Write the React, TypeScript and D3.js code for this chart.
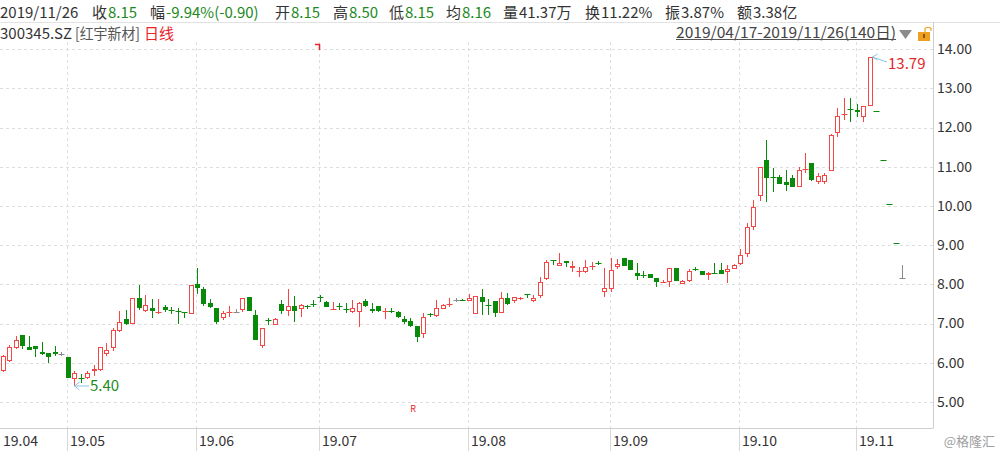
import React from "react";
import * as d3 from "d3";

// ---- Data ----
const OPEN = [
  5.78, 6.05, 6.38, 6.70, 6.41, 6.43, 6.28, 6.26, 6.28, 6.21,
  6.15, 5.58, 5.61, 5.61, 5.80, 5.81, 6.21, 6.37, 6.81, 7.11,
  7.00, 7.66, 7.32, 7.40, 7.28, 7.41, 7.34, 7.32, 7.30, 7.25,
  8.02, 7.88, 7.53, 7.39, 7.15, 7.29, 7.30, 7.34, 7.67, 7.22,
  6.43, 7.08, 6.96, 7.50, 7.32, 7.45, 7.36, 7.44, 7.51, 7.68,
  7.54, 7.36, 7.44, 7.38, 7.29, 7.29, 7.58, 7.37, 7.45, 7.31,
  7.33, 7.29, 7.11, 7.07, 6.94, 6.73, 7.23, 7.19, 7.37, 7.48,
  7.60, 7.59, 7.58, 7.24, 7.68, 7.46, 7.58, 7.26, 7.64, 7.58,
  7.63, 7.74, 7.58, 7.71, 8.14, 8.63, 8.47, 8.59, 8.42, 8.31,
  8.32, 8.45, 8.55, 7.81, 7.87, 8.45, 8.68, 8.62, 8.30, 8.24,
  8.26, 8.15, 8.06, 8.07, 8.42, 8.01, 8.08, 8.39, 8.34, 8.24,
  8.30, 8.36, 8.31, 8.39, 8.51, 8.77, 9.47, 10.26, 11.17, 10.73,
  10.75, 10.60, 10.72, 10.49, 10.92, 11.09, 10.60, 10.60, 10.90, 11.85,
  12.33, 12.47, 12.45, 12.28, 12.55, 12.41, 11.17, 10.05, 9.05, 8.15,
];
const HIGH = [
  6.20, 6.45, 6.69, 6.70, 6.68, 6.43, 6.54, 6.26, 6.43, 6.28,
  6.15, 5.79, 5.70, 5.78, 5.95, 6.41, 6.49, 6.88, 7.32, 7.34,
  7.66, 7.98, 7.73, 7.62, 7.62, 7.46, 7.43, 7.39, 7.30, 7.98,
  8.42, 7.92, 7.63, 7.39, 7.32, 7.45, 7.38, 7.65, 7.67, 7.34,
  6.89, 7.13, 7.15, 7.60, 7.87, 7.70, 7.50, 7.47, 7.60, 7.72,
  7.58, 7.55, 7.52, 7.52, 7.60, 7.55, 7.62, 7.52, 7.45, 7.40,
  7.40, 7.32, 7.18, 7.14, 6.94, 7.26, 7.26, 7.60, 7.50, 7.64,
  7.66, 7.62, 7.75, 7.70, 7.87, 7.62, 7.58, 7.81, 7.77, 7.68,
  7.67, 7.76, 7.73, 8.19, 8.62, 8.63, 8.79, 8.59, 8.60, 8.45,
  8.62, 8.57, 8.60, 8.41, 8.66, 8.64, 8.68, 8.62, 8.55, 8.33,
  8.26, 8.17, 8.12, 8.41, 8.42, 8.11, 8.40, 8.43, 8.35, 8.31,
  8.55, 8.55, 8.50, 8.51, 8.89, 9.56, 10.15, 10.98, 11.68, 10.97,
  10.80, 10.92, 10.80, 10.98, 11.34, 11.09, 10.83, 10.85, 11.83, 12.49,
  12.76, 12.74, 12.60, 12.55, 13.79, 12.41, 11.17, 10.05, 9.05, 8.50,
];
const LOW = [
  5.75, 6.03, 6.36, 6.35, 6.32, 6.14, 6.20, 6.00, 6.18, 6.16,
  5.62, 5.40, 5.49, 5.58, 5.65, 5.78, 6.18, 6.31, 6.79, 6.95,
  7.00, 7.35, 7.30, 7.13, 7.25, 7.30, 7.24, 7.00, 7.15, 7.25,
  7.74, 7.45, 7.40, 7.00, 7.08, 7.17, 7.30, 7.30, 7.32, 6.58,
  6.37, 6.95, 6.96, 7.23, 7.20, 7.03, 7.17, 7.38, 7.43, 7.55,
  7.43, 7.36, 7.35, 7.26, 7.28, 6.92, 7.42, 7.26, 7.30, 7.12,
  7.26, 7.15, 7.00, 6.92, 6.54, 6.63, 7.17, 7.17, 7.36, 7.43,
  7.55, 7.57, 7.57, 7.24, 7.22, 7.22, 7.17, 7.26, 7.48, 7.52,
  7.61, 7.66, 7.56, 7.66, 8.12, 8.50, 8.47, 8.45, 8.32, 8.18,
  8.30, 8.37, 8.50, 7.68, 7.81, 8.40, 8.47, 8.36, 8.11, 8.17,
  8.17, 7.92, 8.04, 7.92, 8.08, 8.01, 8.07, 8.35, 8.24, 8.12,
  8.26, 8.27, 8.03, 8.38, 8.50, 8.70, 9.39, 10.13, 10.11, 10.36,
  10.55, 10.39, 10.47, 10.49, 10.83, 10.63, 10.55, 10.57, 10.88, 11.75,
  12.19, 12.15, 12.28, 12.15, 12.55, 12.41, 11.17, 10.05, 9.05, 8.15,
];
const CLOSE = [
  6.16, 6.41, 6.58, 6.43, 6.32, 6.36, 6.23, 6.14, 6.21, 6.21,
  5.62, 5.73, 5.60, 5.73, 5.83, 6.39, 6.33, 6.83, 7.03, 6.99,
  7.65, 7.40, 7.47, 7.33, 7.29, 7.35, 7.33, 7.31, 7.26, 7.98,
  7.90, 7.50, 7.43, 7.05, 7.26, 7.30, 7.30, 7.64, 7.32, 6.58,
  6.89, 7.07, 7.11, 7.32, 7.45, 7.32, 7.47, 7.43, 7.50, 7.64,
  7.43, 7.37, 7.43, 7.34, 7.39, 7.52, 7.45, 7.31, 7.32, 7.32,
  7.32, 7.17, 7.03, 6.94, 6.65, 7.17, 7.22, 7.39, 7.47, 7.49,
  7.60, 7.58, 7.64, 7.70, 7.56, 7.45, 7.26, 7.64, 7.50, 7.67,
  7.64, 7.73, 7.66, 8.07, 8.56, 8.59, 8.54, 8.55, 8.47, 8.34,
  8.43, 8.46, 8.54, 7.90, 8.36, 8.52, 8.47, 8.36, 8.21, 8.23,
  8.17, 8.07, 8.07, 8.41, 8.08, 8.08, 8.35, 8.38, 8.24, 8.30,
  8.29, 8.27, 8.39, 8.49, 8.75, 9.45, 9.96, 10.98, 10.72, 10.72,
  10.55, 10.53, 10.49, 10.92, 10.93, 10.66, 10.77, 10.79, 11.81, 12.29,
  12.34, 12.46, 12.39, 12.54, 13.79, 12.41, 11.17, 10.05, 9.05, 8.15,
];

const MONTH_LABELS = ["19.04", "19.05", "19.06", "19.07", "19.08", "19.09", "19.10", "19.11"];
const MONTH_START_INDEX = [0, 10, 30, 49, 72, 94, 114, 132];
const Y_TICKS = [5, 6, 7, 8, 9, 10, 11, 12, 13, 14];

const HEADER_DATE = "2019/11/26";
const HEADER_LABELS = ["收", "幅", "开", "高", "低", "均", "量", "换", "振", "额"];
const HEADER_VALUES = ["8.15", "-9.94%(-0.90)", "8.15", "8.50", "8.15", "8.16", "41.37万", "11.22%", "3.87%", "3.38亿"];
const HEADER_VALUE_GREEN = [true, true, true, true, true, true, false, false, false, false];
const HEADER_X = [92, 150, 275, 333, 389, 446, 503, 585, 665, 737];

const STOCK_CODE = "300345.SZ";
const STOCK_NAME = "[红宇新材]";
const PERIOD = "日线";
const RANGE_TEXT = "2019/04/17-2019/11/26(140日)";
const MAX_INDEX = 134;
const MIN_INDEX = 11;

const W = 1000;
const H = 451;
const RED = "#f54646";
const GREEN = "#0a8a0a";
const GRAY = "#8a8a8a";
const TXT_GREEN = "#1d8a1d";
const FONT = '"Noto Sans CJK SC", "Noto Sans", sans-serif';

export default function App() {
  const n = CLOSE.length;
  const x = d3.scaleLinear().domain([0, n - 1]).range([3, 902]);
  const y = d3.scaleLinear().domain([5, 14]).range([401.9, 49.1]);
  const axisX = 933;
  const plotTop = 42;
  const axisY = 428.5;

  const colorOf = (i: number) => {
    const o = OPEN[i], c = CLOSE[i];
    if (c > o) return RED;
    if (c < o) return GREEN;
    if (HIGH[i] > LOW[i]) return GRAY;
    const pc = i > 0 ? CLOSE[i - 1] : c;
    return c < pc ? GREEN : RED;
  };

  const candles = d3.range(n).map((i) => {
    const cx = Math.round(x(i)) + 0.5;
    const o = OPEN[i], c = CLOSE[i], h = HIGH[i], l = LOW[i];
    const col = colorOf(i);
    const yh = Math.round(y(h));
    const yl = Math.round(y(l));
    const yTop = Math.round(y(Math.max(o, c)));
    const yBot = Math.round(y(Math.min(o, c)));
    const bodyH = yBot - yTop;
    const els: any[] = [];
    if (col === RED && bodyH >= 2) {
      if (yh < yTop) els.push(<line key="wu" x1={cx} x2={cx} y1={yh} y2={yTop} stroke={col} />);
      if (yl > yBot) els.push(<line key="wd" x1={cx} x2={cx} y1={yBot} y2={yl} stroke={col} />);
      els.push(
        <rect key="b" x={cx - 2} y={yTop + 0.5} width={4} height={bodyH - 1} fill="#fff" stroke={col} strokeWidth={1} />
      );
    } else {
      if (yl > yh) els.push(<line key="w" x1={cx} x2={cx} y1={yh} y2={yl} stroke={col} />);
      if (bodyH >= 2) {
        els.push(<rect key="b" x={cx - 2.5} y={yTop} width={5} height={bodyH} fill={col} />);
      } else {
        els.push(<line key="b" x1={cx - 3} x2={cx + 3} y1={yTop + 0.5} y2={yTop + 0.5} stroke={col} />);
      }
    }
    return <g key={i}>{els}</g>;
  });

  const maxX = Math.round(x(MAX_INDEX)) + 0.5;
  const maxY = Math.round(y(HIGH[MAX_INDEX]));
  const minX = Math.round(x(MIN_INDEX)) + 0.5;
  const minY = Math.round(y(LOW[MIN_INDEX]));

  return (
    <svg
      width={W}
      height={H}
      style={{ position: "fixed", left: 0, top: 0, display: "block", background: "#fff" }}
      fontFamily={FONT}
    >
      <rect x={0} y={0} width={W} height={H} fill="#fff" />

      {/* Header line 1 */}
      <text x={0} y={17.5} fontSize={15} fill="#333">{HEADER_DATE}</text>
      {HEADER_LABELS.map((lab, k) => (
        <text key={k} x={HEADER_X[k]} y={17.5} fontSize={15}>
          <tspan fill="#333">{lab}</tspan>
          <tspan dx={1} fill={HEADER_VALUE_GREEN[k] ? TXT_GREEN : "#333"}>{HEADER_VALUES[k]}</tspan>
        </text>
      ))}
      <line x1={0} x2={W} y1={22.5} y2={22.5} stroke="#e2e2e2" />

      {/* Header line 2 */}
      <text x={0} y={38.5} fontSize={15} fill="#333">{STOCK_CODE}</text>
      <text x={75} y={38.5} fontSize={15} fill="#555" textLength={65} lengthAdjust="spacingAndGlyphs">{STOCK_NAME}</text>
      <text x={144} y={38.5} fontSize={15} fill="#e8232a">{PERIOD}</text>
      <text x={676} y={37.5} fontSize={15} fill="#444" textLength={220} lengthAdjust="spacingAndGlyphs">
        {RANGE_TEXT}
      </text>
      <line x1={676} x2={896} y1={39.5} y2={39.5} stroke="#555" />
      <path d="M899,30 L912,30 L905.5,39 Z" fill="#8c8c8c" />
      <rect x={918} y={32} width={12} height={9} fill="#f0a020" />
      <rect x={923} y={34} width={2} height={4} fill="#8a5a00" />
      <path d="M925,32 L925,28.5 Q928,26 931,28.5 L931,31" fill="none" stroke="#f0a020" strokeWidth={1.2} />

      {/* Grid */}
      {Y_TICKS.map((t) => (
        <line key={"h" + t} x1={0} x2={axisX} y1={Math.round(y(t)) + 0.5} y2={Math.round(y(t)) + 0.5}
          stroke="#dedede" strokeDasharray="3,3" />
      ))}
      {MONTH_START_INDEX.map((idx, k) =>
        k === 0 ? null : (
          <line key={"v" + k} x1={Math.round(x(idx)) - 0.5} x2={Math.round(x(idx)) - 0.5} y1={plotTop} y2={axisY}
            stroke="#dedede" strokeDasharray="3,3" />
        )
      )}

      {/* Axes */}
      <line x1={axisX + 0.5} x2={axisX + 0.5} y1={22} y2={axisY} stroke="#cfcfcf" />
      <line x1={0} x2={axisX} y1={axisY} y2={axisY} stroke="#cfcfcf" />
      {Y_TICKS.map((t) => (
        <text key={"yl" + t} x={937} y={y(t)} dy="0.35em" fontSize={14} fill="#333">
          {t.toFixed(2)}
        </text>
      ))}
      {MONTH_START_INDEX.map((idx, k) => (
        <g key={"ml" + k}>
          {k > 0 && (
            <line x1={Math.round(x(idx)) - 0.5} x2={Math.round(x(idx)) - 0.5} y1={axisY} y2={H}
              stroke="#d8d8d8" />
          )}
          <text x={k === 0 ? 3 : Math.round(x(idx)) + 2} y={446} fontSize={14} fill="#333">
            {MONTH_LABELS[k]}
          </text>
        </g>
      ))}
      <text x={995} y={446} fontSize={13} fill="#a0a0a0" textAnchor="end">@格隆汇</text>

      {/* Candles */}
      {candles}

      {/* Max annotation */}
      <line x1={maxX + 2} y1={maxY} x2={887} y2={62} stroke="#8cc4e6" />
      <path d={`M${maxX + 7},${maxY - 3} L${maxX + 2},${maxY} L${maxX + 7},${maxY + 3}`} fill="none" stroke="#8cc4e6" />
      <text x={888} y={69} fontSize={15} fill="#e02828">{HIGH[MAX_INDEX].toFixed(2)}</text>

      {/* Min annotation */}
      <line x1={minX} y1={minY} x2={89} y2={minY} stroke="#8cc4e6" />
      <path d={`M${minX + 5},${minY - 4} L${minX},${minY} L${minX + 5},${minY + 4}`} fill="none" stroke="#8cc4e6" />
      <text x={90} y={391} fontSize={15} fill={TXT_GREEN}>{LOW[MIN_INDEX].toFixed(2)}</text>

      {/* Small markers */}
      <path d="M315,44.5 L319.5,44.5 L319.5,50" fill="none" stroke="#e8232a" strokeWidth={1.5} />
      <text x={413} y={412} fontSize={9} fill="#e8232a" textAnchor="middle">R</text>
    </svg>
  );
}
